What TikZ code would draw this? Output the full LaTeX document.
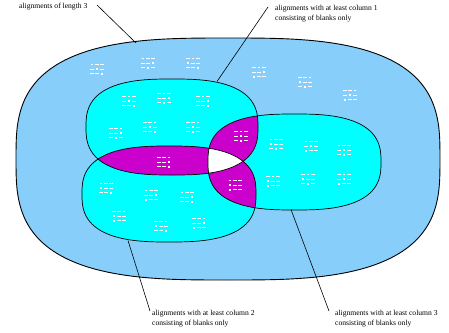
\documentclass[tikz,border=0pt]{standalone}
\usepackage{fontspec}
\setmainfont{Liberation Serif}

\definecolor{outerblue}{RGB}{135,206,250}
\definecolor{setcyan}{RGB}{0,255,255}
\definecolor{overlap}{RGB}{204,0,204}

% superellipse: centre x, centre y, half width, half height, 2/exponent
\newcommand\sell[5]{plot[domain=0:360,samples=145,smooth,variable=\t]
  ({#1+#3*sign(cos(\t))*(abs(cos(\t))+0.000001)^(#5)},
   {#2+#4*sign(sin(\t))*(abs(sin(\t))+0.000001)^(#5)}) -- cycle}

\newcommand\setO{\sell{228}{159}{212}{121}{0.6667}}
\newcommand\setA{\sell{172}{127}{86}{48}{0.74}}
\newcommand\setB{\sell{169}{194}{87}{48}{0.74}}
\newcommand\setC{\sell{294.5}{162}{86.5}{48}{0.74}}

% a 3x3 alignment: 1 = character, 0 = blank, row by row
\newcommand\aln[2]{%
  \begin{scope}[shift={#1}]
    \foreach \f [count=\i from 0] in {#2} {
      \pgfmathtruncatemacro\rr{int(\i/3)}
      \pgfmathtruncatemacro\cc{mod(\i,3)}
      \ifnum\f=1
        \fill[glyph] (\cc*5-5-0.9,\rr*4.6-4.6-0.9) rectangle ++(1.8,1.8);
      \else
        \fill[glyph] (\cc*5-5-1.7,\rr*4.6-4.6-0.45) rectangle ++(3.4,0.9);
      \fi
    }
  \end{scope}}

\tikzset{
  setline/.style={draw=black,line width=0.7pt},
  callout/.style={draw=black,line width=0.6pt},
  glyph/.style={white},
  lbl/.style={anchor=north west,inner sep=0pt,align=left,
              font=\fontsize{7.6}{10}\selectfont}
}

\begin{document}
\begin{tikzpicture}[x=1pt,y=-1pt]
\useasboundingbox (0,0) rectangle (449,332);

% outer set
\fill[outerblue] \setO;
\draw[setline,line width=0.9pt] \setO;

% the three inner sets
\fill[setcyan] \setA;
\fill[setcyan] \setB;
\fill[setcyan] \setC;

% pairwise overlaps
\begin{scope}
  \clip \setA;
  \fill[overlap] \setB;
  \fill[overlap] \setC;
\end{scope}
\begin{scope}
  \clip \setB;
  \fill[overlap] \setC;
\end{scope}
% common part of all three
\begin{scope}
  \clip \setA;
  \clip \setB;
  \fill[white] \setC;
\end{scope}

\draw[setline] \setA;
\draw[setline] \setB;
\draw[setline] \setC;

% alignments outside the inner sets
\aln{(97,69)}{1,0,0,0,1,0,0,0,1}
\aln{(148,63)}{1,0,0,0,0,1,0,1,0}
\aln{(193,63)}{0,1,0,1,0,0,0,0,1}
\aln{(259,72)}{0,1,0,0,0,1,1,0,0}
\aln{(305,82)}{0,0,1,1,0,0,0,1,0}
\aln{(350,95)}{0,0,1,0,1,0,1,0,0}

% column 1 blank
\aln{(129,101)}{0,1,0,0,1,0,0,0,1}
\aln{(164,98)}{0,1,0,0,0,1,0,1,0}
\aln{(203,101)}{0,1,0,0,0,1,0,0,1}
\aln{(116,133)}{0,0,1,0,0,1,0,1,0}
\aln{(150,127)}{0,0,1,0,1,0,0,0,1}
\aln{(193,127)}{0,0,1,0,1,0,0,1,0}

% overlaps
\aln{(164,162)}{0,0,1,0,0,1,0,0,1}
\aln{(241,136)}{0,1,0,0,1,0,0,1,0}
\aln{(235,185)}{1,0,0,1,0,0,1,0,0}

% column 2 blank
\aln{(106,188)}{1,0,0,1,0,0,0,0,1}
\aln{(151,195)}{1,0,0,0,0,1,1,0,0}
\aln{(187,197)}{1,0,0,0,0,1,0,0,1}
\aln{(119,216)}{0,0,1,1,0,0,1,0,0}
\aln{(161,226)}{0,0,1,1,0,0,0,0,1}
\aln{(199,223)}{0,0,1,0,0,1,1,0,0}

% column 3 blank
\aln{(276,144)}{1,0,0,1,0,0,0,1,0}
\aln{(311,146)}{1,0,0,0,1,0,1,0,0}
\aln{(344,150)}{1,0,0,0,1,0,0,1,0}
\aln{(273,181)}{0,1,0,1,0,0,1,0,0}
\aln{(308,179)}{0,1,0,1,0,0,0,1,0}
\aln{(344,179)}{0,1,0,0,1,0,1,0,0}

% labels
\node[lbl] (lenlbl) at (19,3) {alignments of length 3};
\node[lbl] (col1lbl) at (275,5.3) {alignments with at least column 1\\consisting of blanks only};
\node[lbl] (col2lbl) at (152,309.8) {alignments with at least column 2\\consisting of blanks only};
\node[lbl] (col3lbl) at (335,309.8) {alignments with at least column 3\\consisting of blanks only};

% callout ends
\coordinate (len0) at (97,5);   \coordinate (len1) at (136,43);
\coordinate (c10) at (268,7);   \coordinate (c11) at (217,81.5);
\coordinate (c20) at (150,311); \coordinate (c21) at (128,240.5);
\coordinate (c30) at (329,311); \coordinate (c31) at (291,209.5);

\draw[callout] (len0) -- (len1);
\draw[callout] (c10) -- (c11);
\draw[callout] (c20) -- (c21);
\draw[callout] (c30) -- (c31);
\end{tikzpicture}
\end{document}
